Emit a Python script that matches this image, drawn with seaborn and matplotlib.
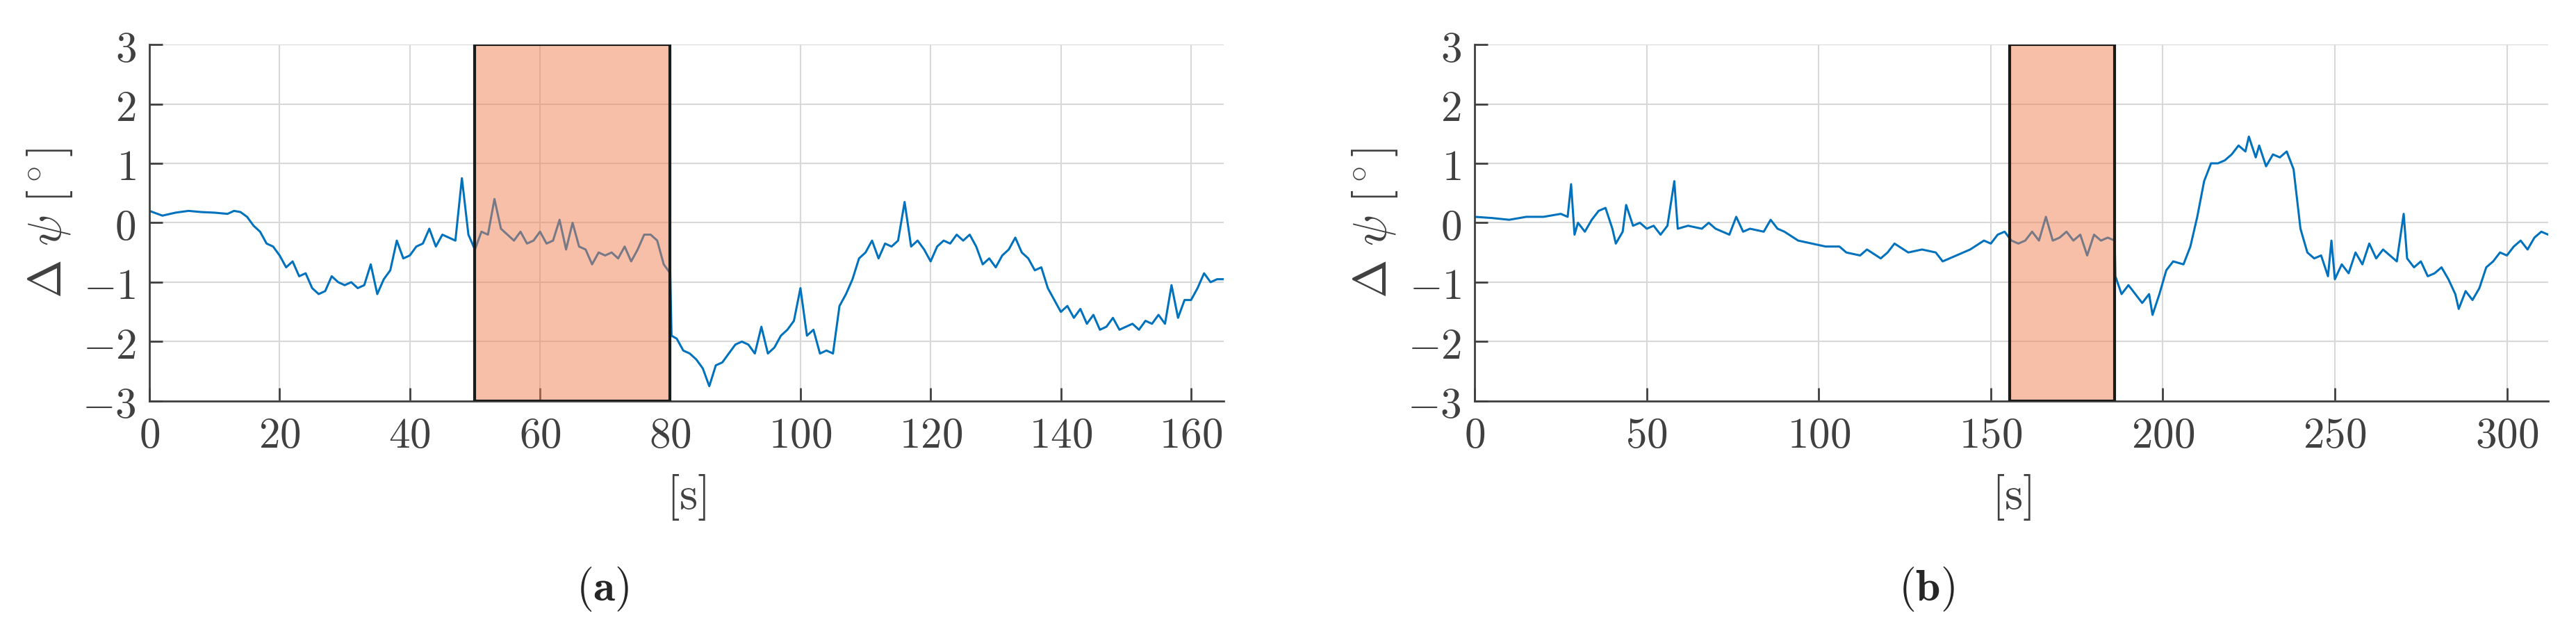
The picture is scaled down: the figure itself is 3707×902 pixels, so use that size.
import numpy as np
import matplotlib
matplotlib.use("Agg")
import matplotlib.pyplot as plt
import seaborn as sns
import pandas as pd
from matplotlib.ticker import FuncFormatter

# panel (a): time [s] and heading error [deg]
t_a = [0, 2, 4, 6, 8, 10, 12, 13, 14, 15, 16, 17, 18, 19, 20, 21, 22, 23, 24, 25,
       26, 27, 28, 29, 30, 31, 32, 33, 34, 35, 36, 37, 38, 39, 40, 41, 42, 43, 44, 45,
       46, 47, 48, 49, 50, 51, 52, 53, 54, 55, 56, 57, 58, 59, 60, 61, 62, 63, 64, 65,
       66, 67, 68, 69, 70, 71, 72, 73, 74, 75, 76, 77, 78, 79, 80, 80.2, 81, 82, 83, 84,
       85, 86, 87, 88, 89, 90, 91, 92, 93, 94, 95, 96, 97, 98, 99, 100, 101, 102, 103, 104,
       105, 106, 107, 108, 109, 110, 111, 112, 113, 114, 115, 116, 117, 118, 119, 120, 121, 122, 123, 124,
       125, 126, 127, 128, 129, 130, 131, 132, 133, 134, 135, 136, 137, 138, 139, 140, 141, 142, 143, 144,
       145, 146, 147, 148, 149, 150, 151, 152, 153, 154, 155, 156, 157, 158, 159, 160, 161, 162, 163, 164, 165]
psi_a = [0.2, 0.12, 0.17, 0.2, 0.18, 0.17, 0.15, 0.2, 0.18, 0.1, -0.05, -0.15, -0.35, -0.4, -0.55, -0.75, -0.65, -0.9, -0.85, -1.1,
         -1.2, -1.15, -0.9, -1.0, -1.05, -1.0, -1.1, -1.05, -0.7, -1.2, -0.95, -0.8, -0.3, -0.6, -0.55, -0.4, -0.35, -0.1, -0.4, -0.2,
         -0.25, -0.3, 0.75, -0.2, -0.45, -0.15, -0.2, 0.4, -0.1, -0.2, -0.3, -0.15, -0.35, -0.3, -0.15, -0.35, -0.3, 0.05, -0.45, 0.0,
         -0.4, -0.45, -0.7, -0.5, -0.55, -0.5, -0.6, -0.4, -0.65, -0.45, -0.2, -0.2, -0.3, -0.7, -0.85, -1.9, -1.95, -2.15, -2.2, -2.3,
         -2.45, -2.75, -2.4, -2.35, -2.2, -2.05, -2.0, -2.05, -2.2, -1.75, -2.2, -2.1, -1.9, -1.8, -1.65, -1.1, -1.9, -1.8, -2.2, -2.15,
         -2.2, -1.4, -1.2, -0.95, -0.6, -0.5, -0.3, -0.6, -0.35, -0.4, -0.3, 0.35, -0.4, -0.3, -0.45, -0.65, -0.4, -0.3, -0.35, -0.2,
         -0.3, -0.2, -0.4, -0.7, -0.6, -0.75, -0.55, -0.45, -0.25, -0.5, -0.6, -0.8, -0.75, -1.1, -1.3, -1.5, -1.4, -1.6, -1.45, -1.7,
         -1.55, -1.8, -1.75, -1.6, -1.8, -1.75, -1.7, -1.8, -1.65, -1.7, -1.55, -1.7, -1.05, -1.6, -1.3, -1.3, -1.1, -0.85, -1.0, -0.95, -0.95]

# panel (b)
t_b = [0, 5, 10, 15, 20, 25, 27, 28, 29, 30, 32, 34, 36, 38, 40, 41, 43, 44, 46, 48,
       50, 52, 54, 56, 58, 59, 62, 66, 68, 70, 74, 76, 78, 80, 84, 86, 88, 90, 94, 98,
       102, 106, 108, 112, 114, 118, 120, 122, 126, 130, 134, 136, 140, 144, 148, 150, 152, 154, 156, 158,
       160, 162, 164, 166, 168, 170, 172, 174, 176, 178, 180, 182, 184, 186, 186.2, 188, 190, 192, 194, 196,
       197, 199, 201, 203, 206, 208, 210, 212, 214, 216, 218, 220, 222, 224, 225, 227, 228, 230, 232, 234,
       236, 238, 240, 242, 244, 246, 248, 249, 250, 252, 254, 256, 258, 260, 262, 264, 266, 268, 270, 271,
       273, 275, 277, 279, 281, 283, 285, 286, 288, 290, 292, 294, 296, 298, 300, 302, 304, 306, 308, 310, 312]
psi_b = [0.1, 0.08, 0.05, 0.1, 0.1, 0.15, 0.1, 0.65, -0.2, 0.0, -0.15, 0.05, 0.2, 0.25, -0.1, -0.35, -0.15, 0.3, -0.05, 0.0,
         -0.1, -0.05, -0.2, -0.05, 0.7, -0.1, -0.05, -0.1, 0.0, -0.1, -0.2, 0.1, -0.15, -0.1, -0.15, 0.05, -0.1, -0.15, -0.3, -0.35,
         -0.4, -0.4, -0.5, -0.55, -0.45, -0.6, -0.5, -0.35, -0.5, -0.45, -0.5, -0.65, -0.55, -0.45, -0.3, -0.35, -0.2, -0.15, -0.3, -0.35,
         -0.3, -0.15, -0.3, 0.1, -0.3, -0.25, -0.15, -0.3, -0.2, -0.55, -0.2, -0.3, -0.25, -0.3, -0.9, -1.2, -1.05, -1.2, -1.35, -1.2,
         -1.55, -1.2, -0.8, -0.65, -0.7, -0.4, 0.1, 0.7, 1.0, 1.0, 1.05, 1.15, 1.3, 1.2, 1.45, 1.1, 1.3, 0.95, 1.15, 1.1,
         1.2, 0.9, -0.1, -0.5, -0.6, -0.55, -0.9, -0.3, -0.95, -0.7, -0.85, -0.5, -0.7, -0.35, -0.6, -0.45, -0.55, -0.65, 0.15, -0.6,
         -0.75, -0.65, -0.9, -0.85, -0.75, -0.95, -1.2, -1.45, -1.15, -1.3, -1.1, -0.75, -0.65, -0.5, -0.55, -0.4, -0.3, -0.45, -0.25, -0.15, -0.2]

panels = [
    dict(t=t_a, psi=psi_a, xmax=165, xticks=list(range(0, 161, 20)), span=(50, 80), tag="a"),
    dict(t=t_b, psi=psi_b, xmax=312, xticks=list(range(0, 301, 50)), span=(155.5, 186), tag="b"),
]

sns.set_theme(style="whitegrid")
plt.rcParams["mathtext.fontset"] = "cm"
plt.rcParams["font.family"] = ["DejaVu Serif"]

fig = plt.figure(figsize=(37.07, 9.03), dpi=100)
boxes = [[0.058, 0.36, 0.417, 0.568], [0.5725, 0.36, 0.4167, 0.568]]
cap_x = [0.234, 0.748]
fmt = FuncFormatter(lambda v, p: f"${v:g}$")
ink = "#404040"

for box, cx, p in zip(boxes, cap_x, panels):
    ax = fig.add_axes(box)
    df = pd.DataFrame({"t": p["t"], "psi": p["psi"]})
    sns.lineplot(data=df, x="t", y="psi", ax=ax, color="#0072BD", linewidth=2.2)
    lo, hi = p["span"]
    ax.axvspan(lo, hi, facecolor="#f08050", alpha=0.5, linewidth=0, zorder=3)
    ax.axvspan(lo, hi, fill=False, edgecolor="#1a1a1a", linewidth=3, zorder=4)
    ax.set_xlim(0, p["xmax"])
    ax.set_ylim(-3, 3)
    ax.set_xticks(p["xticks"])
    ax.set_yticks(range(-3, 4))
    ax.xaxis.set_major_formatter(fmt)
    ax.yaxis.set_major_formatter(fmt)
    ax.grid(True, color="#d8d8d8", linewidth=1.5)
    for side in ["top", "right"]:
        ax.spines[side].set_visible(False)
    for side in ["left", "bottom"]:
        ax.spines[side].set_color(ink)
        ax.spines[side].set_linewidth(2)
    ax.tick_params(direction="in", length=14, width=2, color=ink, labelcolor=ink,
                   labelsize=44, pad=14, bottom=True, left=True)
    ax.set_xlabel(r"$[\mathrm{s}]$", fontsize=48, color=ink, labelpad=16)
    ax.set_ylabel(r"$\Delta\ \psi\ [^\circ]$", fontsize=48, color=ink, labelpad=8)
    fig.text(cx, 0.062, r"$(\mathbf{" + p["tag"] + r"})$", fontsize=46,
             ha="center", va="center")

fig.savefig("out.png", dpi=100)
